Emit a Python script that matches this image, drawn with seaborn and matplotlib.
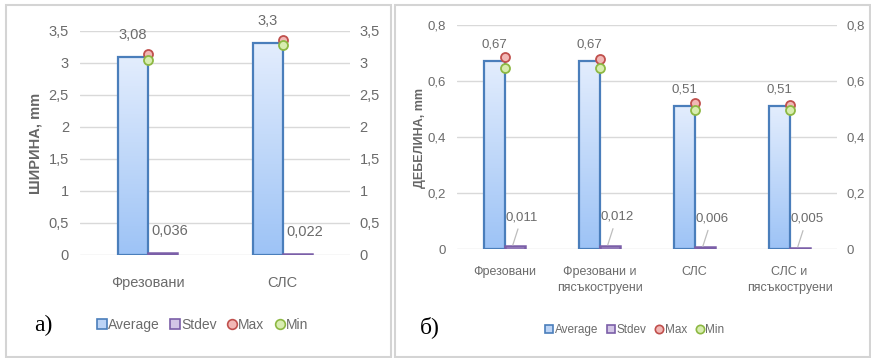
import numpy as np
import pandas as pd
import matplotlib
matplotlib.use("Agg")
import matplotlib.pyplot as plt
import seaborn as sns
from matplotlib.lines import Line2D
from matplotlib.patches import Rectangle
from matplotlib.colors import LinearSegmentedColormap
from matplotlib.ticker import FuncFormatter

# ---------------- data ----------------
cats_a = ["Фрезовани", "СЛС"]
avg_a = [3.08, 3.3]
std_a = [0.036, 0.022]
max_a = [3.14, 3.35]
min_a = [3.04, 3.28]
avg_lbl_a = ["3,08", "3,3"]
std_lbl_a = ["0,036", "0,022"]
yticks_a = [0, 0.5, 1, 1.5, 2, 2.5, 3, 3.5]

cats_b = ["Фрезовани", "Фрезовани и\nпясъкоструени", "СЛС", "СЛС и\nпясъкоструени"]
avg_b = [0.67, 0.67, 0.51, 0.51]
std_b = [0.011, 0.012, 0.006, 0.005]
max_b = [0.687, 0.677, 0.52, 0.514]
min_b = [0.648, 0.648, 0.497, 0.497]
avg_lbl_b = ["0,67", "0,67", "0,51", "0,51"]
std_lbl_b = ["0,011", "0,012", "0,006", "0,005"]
yticks_b = [0, 0.2, 0.4, 0.6, 0.8]

series = ["Average", "Stdev"]

# ---------------- style ----------------
sns.set_theme(style="white")
plt.rcParams["font.family"] = ["Liberation Sans", "DejaVu Sans"]

TXT = "#6b6b6b"
GRID = "#d9d9d9"
AVG_EDGE = "#4a7ebb"
AVG_TOP, AVG_BOT = "#e3edfd", "#9dc3f6"
STD_EDGE = "#7b5fa8"
STD_FILL = "#d3c6e6"
MAX_EDGE, MAX_FILL = "#c0504d", "#f2b8b6"
MIN_EDGE, MIN_FILL = "#8db843", "#d8edb0"

W, H = 871, 358
fig = plt.figure(figsize=(W / 100, H / 100), dpi=100)

# panel borders
fig.add_artist(Rectangle((6 / W, 1.5 / H), (391 - 6) / W, (353.5 - 1.5) / H,
                         transform=fig.transFigure, fill=False, ec="#d4d4d4", lw=1.5))
fig.add_artist(Rectangle((394.5 / W, 1.5 / H), (870 - 394.5) / W, (353.5 - 1.5) / H,
                         transform=fig.transFigure, fill=False, ec="#d4d4d4", lw=1.5))


def comma(v, pos=None):
    return ("%g" % v).replace(".", ",")


def gradient_fill(ax, patch, c_top, c_bot):
    x0, y0 = patch.get_x(), patch.get_y()
    w, h = patch.get_width(), patch.get_height()
    grad = np.linspace(0, 1, 256).reshape(-1, 1)
    cmap = LinearSegmentedColormap.from_list("g", [c_top, c_bot])
    im = ax.imshow(grad, extent=[x0, x0 + w, y0, y0 + h], origin="upper",
                   aspect="auto", cmap=cmap, zorder=patch.get_zorder() - 0.05,
                   interpolation="bilinear")
    im.set_clip_path(patch)
    patch.set_facecolor("none")


def panel(rect, cats, avg, std, mx, mn, avg_lbl, std_lbl, yticks, ymax,
          fs_tick, fs_cat, cat_pad, lbl_dy, std_off, leader):
    ax = fig.add_axes(rect)
    n = len(cats)
    df = pd.DataFrame({
        "cat": cats * 2,
        "series": ["Average"] * n + ["Stdev"] * n,
        "value": list(avg) + list(std),
    })
    sns.barplot(data=df, x="cat", y="value", hue="series", hue_order=series,
                order=cats, palette=[AVG_BOT, STD_FILL], width=0.43, ax=ax,
                legend=False, saturation=1, zorder=3)
    for p in ax.containers[0]:
        p.set_edgecolor(AVG_EDGE)
        p.set_linewidth(1.6)
        p.set_zorder(3)
        gradient_fill(ax, p, AVG_TOP, AVG_BOT)
    for p in ax.containers[1]:
        p.set_edgecolor(STD_EDGE)
        p.set_linewidth(1.8)
        p.set_facecolor(STD_FILL)
        p.set_zorder(3)

    xs = np.arange(n)
    ax.scatter(xs, mx, s=42, facecolor=MAX_FILL, edgecolor=MAX_EDGE, linewidth=1.3, zorder=5)
    ax.scatter(xs, mn, s=42, facecolor=MIN_FILL, edgecolor=MIN_EDGE, linewidth=1.3, zorder=6)

    for i, p in enumerate(ax.containers[0]):
        cx = p.get_x() + p.get_width() / 2
        ax.annotate(avg_lbl[i], (cx, p.get_height()), xytext=(0, lbl_dy),
                    textcoords="offset pixels", ha="center", va="center",
                    fontsize=fs_tick, color=TXT, zorder=7)
    for i, p in enumerate(ax.containers[1]):
        cx = p.get_x() + p.get_width() / 2
        if leader:
            ax.annotate(std_lbl[i], (cx - 0.02, p.get_height() + ymax * 0.004),
                        xytext=std_off, textcoords="offset pixels",
                        ha="center", va="center", fontsize=fs_tick, color=TXT,
                        arrowprops=dict(arrowstyle="-", color="#bdbdbd", lw=0.9,
                                        shrinkA=2, shrinkB=0), zorder=7)
        else:
            ax.annotate(std_lbl[i], (cx, p.get_height()), xytext=std_off,
                        textcoords="offset pixels", ha="center", va="center",
                        fontsize=fs_tick, color=TXT, zorder=7)

    ax.set_xlim(-0.5, n - 0.5)
    ax.set_ylim(0, ymax)
    ax.set_yticks(yticks)
    ax.yaxis.set_major_formatter(FuncFormatter(comma))
    ax.grid(axis="y", color=GRID, lw=1, zorder=0)
    ax.set_axisbelow(True)
    for s in ax.spines.values():
        s.set_visible(False)
    ax.set_xlabel("")
    ax.set_ylabel("")
    ax.tick_params(axis="y", length=0, pad=8, labelsize=fs_tick, labelcolor=TXT)
    ax.tick_params(axis="x", length=0, pad=cat_pad, labelsize=fs_cat, labelcolor=TXT)
    ax.set_xticks(xs)
    ax.set_xticklabels(cats, linespacing=1.5)

    ax2 = ax.twinx()
    ax2.set_ylim(0, ymax)
    ax2.set_yticks(yticks)
    ax2.yaxis.set_major_formatter(FuncFormatter(comma))
    for s in ax2.spines.values():
        s.set_visible(False)
    ax2.grid(False)
    ax2.tick_params(axis="y", length=0, pad=7, labelsize=fs_tick, labelcolor=TXT)
    return ax


axA = panel([80 / W, (H - 255) / H, 270 / W, 224.5 / H], cats_a, avg_a, std_a,
            max_a, min_a, avg_lbl_a, std_lbl_a, yticks_a, 3.5,
            fs_tick=10.5, fs_cat=10.5, cat_pad=15, lbl_dy=22, std_off=(8, 22),
            leader=False)
axB = panel([457 / W, (H - 249) / H, 380 / W, 224 / H], cats_b, avg_b, std_b,
            max_b, min_b, avg_lbl_b, std_lbl_b, yticks_b, 0.8,
            fs_tick=9.5, fs_cat=9, cat_pad=12, lbl_dy=17, std_off=(9, 28),
            leader=True)

# axis titles
fig.text(35 / W, 1 - 143 / H, "ШИРИНА, mm", rotation=90, ha="center", va="center",
         fontsize=10.5, color="#666666", fontweight="bold")
fig.text(420 / W, 1 - 138 / H, "ДЕБЕЛИНА, mm", rotation=90, ha="center", va="center",
         fontsize=9, color="#666666", fontweight="bold")

# panel letters
fig.text(43 / W, 1 - 325 / H, "а)", ha="center", va="center", fontsize=17,
         family=["Liberation Serif", "DejaVu Serif"], color="black")
fig.text(430 / W, 1 - 327 / H, "б)", ha="center", va="center", fontsize=17,
         family=["Liberation Serif", "DejaVu Serif"], color="black")


def handles(ms):
    return [
        Line2D([], [], marker="s", ls="none", markersize=ms, markerfacecolor="#bcd4f6",
               markeredgecolor=AVG_EDGE, markeredgewidth=1.2, label="Average"),
        Line2D([], [], marker="s", ls="none", markersize=ms, markerfacecolor=STD_FILL,
               markeredgecolor=STD_EDGE, markeredgewidth=1.2, label="Stdev"),
        Line2D([], [], marker="o", ls="none", markersize=ms, markerfacecolor=MAX_FILL,
               markeredgecolor=MAX_EDGE, markeredgewidth=1.2, label="Max"),
        Line2D([], [], marker="o", ls="none", markersize=ms, markerfacecolor=MIN_FILL,
               markeredgecolor=MIN_EDGE, markeredgewidth=1.2, label="Min"),
    ]


fig.legend(handles=handles(7), loc="center", bbox_to_anchor=(203 / W, 1 - 325 / H),
           ncol=4, frameon=False, fontsize=10, handlelength=0.6,
           handletextpad=0.15, columnspacing=0.8, labelcolor=TXT)
fig.legend(handles=handles(6), loc="center", bbox_to_anchor=(635 / W, 1 - 330 / H),
           ncol=4, frameon=False, fontsize=8.5, handlelength=0.6,
           handletextpad=0.15, columnspacing=0.8, labelcolor=TXT)

fig.savefig("out.png", dpi=100)
